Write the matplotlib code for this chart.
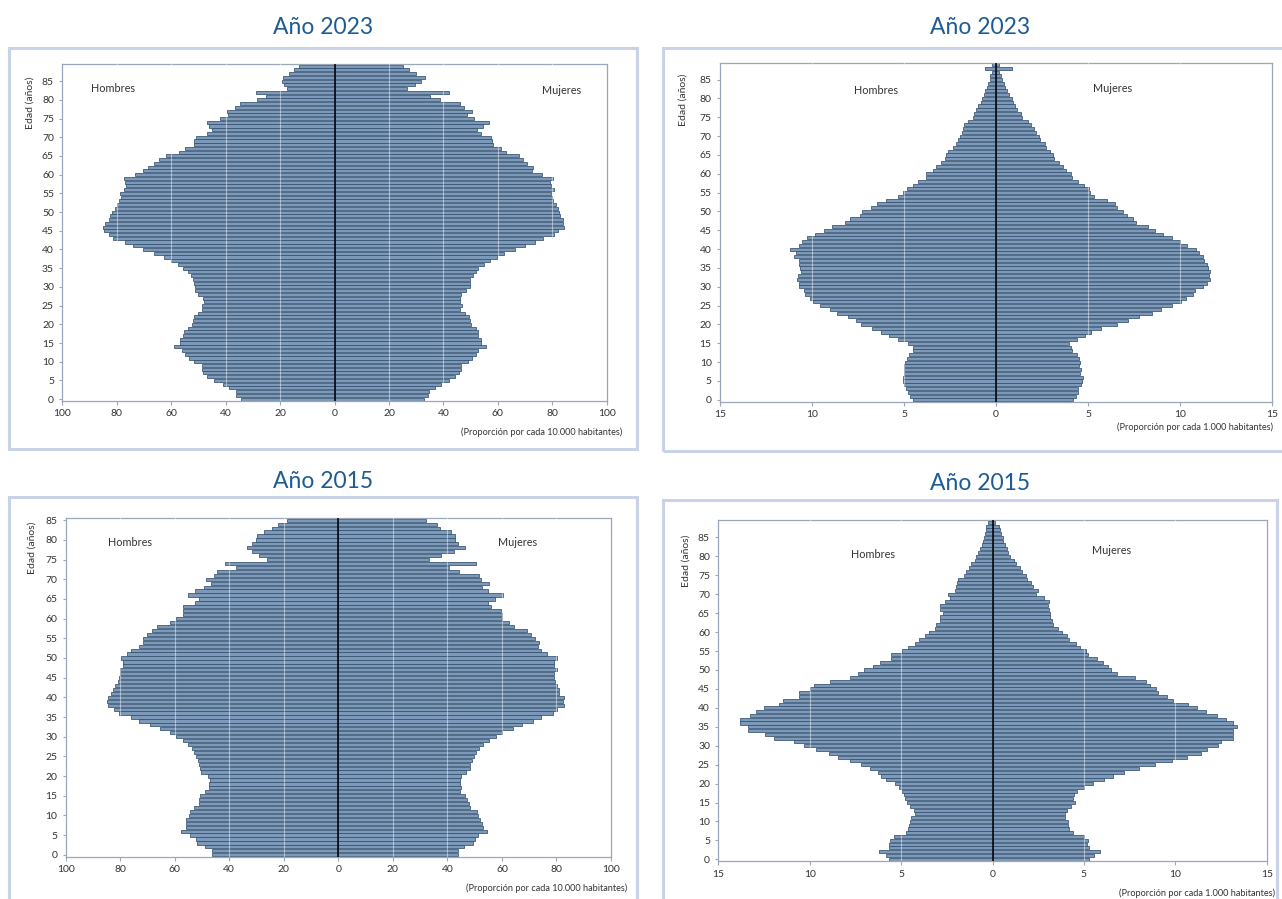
import matplotlib
matplotlib.use("Agg")
import matplotlib.pyplot as plt
from matplotlib.patches import Rectangle
from matplotlib.ticker import FixedLocator, FixedFormatter

plt.rcParams['font.family'] = ['Lato', 'DejaVu Sans']

# ---------------------------------------------------------------- data
# Single ages, youngest first
ages_2023 = list(range(90))
ages_2015_10k = list(range(86))
ages_2015_1k = list(range(90))

# Año 2023 - proporción por cada 10.000 habitantes
hombres_2023_10k = [
    34.2, 36.1, 36.3, 38.6, 40.8, 44.1, 46.7, 48.2, 48.8, 48.5,
    51.8, 53.4, 54.8, 56.0, 58.9, 56.9, 56.7, 55.5, 55.3, 54.0,
    52.4, 52.1, 51.8, 50.2, 48.6, 48.8, 47.9, 48.4, 50.0, 51.2,
    51.3, 51.6, 52.1, 52.8, 53.7, 55.7, 57.6, 60.0, 62.5, 66.3,
    70.2, 73.9, 76.9, 81.2, 82.8, 84.6, 84.9, 84.4, 82.8, 82.5,
    81.6, 80.6, 79.8, 79.2, 78.6, 78.8, 77.3, 76.6, 77.0, 77.2,
    73.3, 70.2, 68.5, 66.3, 64.3, 62.0, 57.3, 55.1, 51.8, 51.8,
    51.0, 46.9, 45.0, 46.0, 46.9, 41.9, 39.1, 39.6, 36.4, 34.7,
    28.5, 25.2, 29.0, 17.3, 18.6, 19.3, 19.0, 16.8, 14.7, 12.9,
]
mujeres_2023_10k = [
    32.7, 34.3, 34.7, 36.9, 39.1, 41.9, 44.2, 45.7, 46.4, 46.4,
    49.0, 50.6, 52.0, 52.8, 55.5, 54.0, 53.8, 52.9, 52.7, 52.1,
    50.1, 49.6, 49.4, 48.0, 46.2, 46.8, 46.2, 46.2, 46.4, 48.2,
    49.8, 49.6, 49.9, 50.9, 52.0, 52.7, 54.8, 57.1, 59.7, 62.1,
    66.2, 69.9, 73.5, 76.6, 80.5, 82.1, 84.4, 84.0, 83.8, 82.8,
    82.3, 82.0, 81.3, 80.1, 79.9, 79.5, 80.6, 79.5, 79.2, 80.3,
    76.2, 72.4, 72.9, 70.7, 69.1, 67.8, 63.0, 61.2, 58.2, 58.0,
    57.5, 53.9, 52.3, 54.5, 56.7, 51.2, 48.7, 50.6, 47.4, 46.0,
    38.6, 35.0, 42.0, 26.8, 29.7, 31.7, 33.1, 29.9, 27.2, 25.1,
]

# Año 2023 - proporción por cada 1.000 habitantes
hombres_2023_1k = [
    4.49, 4.67, 4.80, 4.89, 5.00, 5.07, 5.04, 5.00, 5.00, 4.98,
    4.93, 4.86, 4.75, 4.49, 4.53, 4.80, 5.34, 5.80, 6.25, 6.76,
    7.34, 7.61, 8.06, 8.64, 9.02, 9.57, 9.93, 10.11, 10.40, 10.43,
    10.69, 10.69, 10.82, 10.78, 10.58, 10.65, 10.69, 10.69, 10.98, 10.87,
    11.20, 10.72, 10.54, 10.29, 9.82, 9.37, 8.91, 8.19, 7.93, 7.39,
    7.30, 6.79, 6.49, 5.98, 5.33, 5.04, 4.86, 4.49, 4.26, 3.80,
    3.80, 3.44, 3.26, 2.99, 2.79, 2.72, 2.63, 2.36, 2.17, 2.08,
    1.99, 1.87, 1.81, 1.76, 1.54, 1.27, 1.20, 1.09, 0.98, 0.82,
    0.76, 0.67, 0.58, 0.51, 0.42, 0.36, 0.31, 0.25, 0.58, 0.22,
]
mujeres_2023_1k = [
    4.18, 4.33, 4.44, 4.44, 4.62, 4.66, 4.71, 4.55, 4.60, 4.51,
    4.55, 4.51, 4.40, 4.11, 4.08, 3.97, 4.37, 4.84, 5.16, 5.71,
    6.58, 7.17, 7.77, 8.48, 8.93, 9.57, 10.05, 10.33, 10.67, 10.80,
    11.21, 11.47, 11.63, 11.58, 11.59, 11.52, 11.45, 11.27, 11.25, 11.00,
    10.87, 10.38, 10.00, 9.57, 9.08, 8.64, 8.24, 7.61, 7.45, 7.12,
    6.88, 6.58, 6.43, 6.03, 5.31, 5.11, 5.05, 4.75, 4.47, 4.13,
    4.08, 3.80, 3.62, 3.42, 3.15, 3.10, 2.93, 2.72, 2.63, 2.39,
    2.32, 2.16, 2.05, 1.90, 1.72, 1.39, 1.36, 1.14, 1.03, 0.91,
    0.85, 0.71, 0.60, 0.49, 0.42, 0.34, 0.27, 0.18, 0.85, 0.18,
]

# Año 2015 - proporción por cada 10.000 habitantes
hombres_2015_10k = [
    46.2, 46.2, 48.9, 52.0, 52.3, 54.4, 57.7, 55.9, 56.0, 55.7,
    54.8, 54.3, 53.1, 51.1, 51.0, 50.6, 48.9, 47.3, 47.3, 47.2,
    47.7, 50.5, 50.7, 51.0, 51.3, 52.1, 52.8, 53.7, 55.0, 57.0,
    59.5, 61.7, 65.5, 69.1, 73.0, 75.9, 80.3, 82.4, 84.4, 84.7,
    84.4, 83.4, 82.8, 81.8, 80.7, 80.3, 80.0, 80.2, 78.9, 79.0,
    79.7, 77.5, 75.9, 73.1, 71.6, 71.8, 70.0, 68.2, 66.5, 61.7,
    59.7, 56.8, 57.0, 56.8, 52.6, 51.1, 55.0, 52.6, 49.4, 46.8,
    48.7, 45.7, 44.4, 37.5, 41.4, 26.0, 29.1, 31.8, 33.6, 31.8,
    30.1, 29.7, 27.1, 24.2, 22.0, 18.7,
]
mujeres_2015_10k = [
    43.8, 43.8, 46.2, 49.3, 50.0, 51.1, 54.4, 52.9, 52.8, 51.8,
    51.1, 50.7, 48.4, 48.0, 47.3, 46.3, 44.6, 45.0, 44.7, 44.5,
    44.9, 46.7, 48.4, 48.3, 48.9, 49.6, 50.5, 51.5, 52.9, 55.1,
    57.7, 59.9, 63.9, 67.2, 71.3, 74.2, 78.6, 80.1, 82.6, 82.4,
    82.6, 80.9, 81.1, 80.3, 79.3, 79.2, 79.1, 80.2, 79.0, 79.0,
    80.3, 76.5, 74.4, 73.1, 73.6, 72.0, 70.5, 69.1, 64.4, 62.5,
    59.9, 59.9, 59.5, 56.0, 54.8, 57.3, 60.3, 54.8, 52.6, 55.4,
    52.4, 51.5, 44.1, 40.6, 50.4, 33.4, 37.8, 42.3, 46.3, 43.8,
    42.7, 42.9, 41.2, 37.4, 36.1, 32.0,
]

# Año 2015 - proporción por cada 1.000 habitantes
hombres_2015_1k = [
    5.68, 5.81, 6.23, 5.65, 5.65, 5.63, 5.41, 4.74, 4.61, 4.55,
    4.50, 4.46, 4.26, 4.32, 4.50, 4.66, 4.79, 4.83, 4.95, 5.14,
    5.32, 5.83, 6.12, 6.28, 6.72, 7.19, 7.78, 8.47, 8.96, 9.65,
    10.33, 10.87, 11.97, 12.46, 13.39, 13.39, 13.79, 13.83, 13.28, 12.95,
    12.51, 11.69, 11.46, 10.60, 10.56, 10.00, 9.78, 8.91, 7.81, 7.38,
    7.05, 6.56, 6.14, 5.54, 5.54, 4.94, 4.64, 4.26, 4.04, 3.68,
    3.46, 3.17, 3.08, 2.86, 2.86, 2.71, 2.86, 2.86, 2.62, 2.31,
    2.46, 2.04, 1.99, 1.95, 1.86, 1.58, 1.44, 1.26, 1.18, 0.95,
    0.89, 0.77, 0.67, 0.60, 0.53, 0.46, 0.42, 0.38, 0.35, 0.27,
]
mujeres_2015_1k = [
    5.26, 5.54, 5.87, 5.26, 5.19, 5.21, 5.01, 4.43, 4.21, 4.12,
    4.15, 3.97, 3.97, 4.06, 4.28, 4.54, 4.39, 4.48, 4.63, 5.03,
    5.48, 6.08, 6.58, 7.18, 8.00, 8.87, 9.80, 10.62, 11.38, 11.71,
    12.31, 12.51, 13.13, 13.17, 13.17, 13.37, 13.13, 12.77, 12.26, 11.66,
    11.18, 10.67, 9.89, 9.53, 9.07, 8.93, 8.60, 8.38, 7.78, 6.79,
    6.50, 6.34, 6.03, 5.70, 5.21, 5.10, 4.77, 4.55, 4.17, 4.06,
    3.79, 3.57, 3.33, 3.24, 3.15, 3.15, 3.08, 3.02, 3.08, 2.79,
    2.37, 2.48, 2.24, 2.09, 1.91, 1.82, 1.64, 1.48, 1.28, 1.15,
    0.97, 0.87, 0.78, 0.67, 0.56, 0.55, 0.49, 0.42, 0.33, 0.15,
]

age_ticks = list(range(0, 90, 5))
ticks_10k = [-100, -80, -60, -40, -20, 0, 20, 40, 60, 80, 100]
ticks_1k = [-15, -10, -5, 0, 5, 10, 15]

# ---------------------------------------------------------------- style
W, H = 1282, 899
BAR = '#7d99b9'
EDGE = '#33506f'
TITLE = '#1d5b94'
FRAME = '#c9d2e6'
SPINE = '#9aa7b8'
TEXT = '#333333'

fig = plt.figure(figsize=(W / 100, H / 100), dpi=100)


def fx(x):
    return x / W


def fy(y):
    return 1 - y / H


def frame(x0, y0, x1, y1):
    fig.patches.append(Rectangle((fx(x0), fy(y1)), fx(x1 - x0), (y1 - y0) / H,
                                 transform=fig.transFigure, fill=False,
                                 edgecolor=FRAME, linewidth=2.2, zorder=0))


def pyramid(box, ages, men, women, xticks, title, title_xy, frame_box,
            ylabel_xy, hombres_xy, mujeres_xy, note, note_xy, note_ha):
    x0, y0, x1, y1 = box
    ax = fig.add_axes([fx(x0), fy(y1), fx(x1 - x0), (y1 - y0) / H])
    ax.barh(ages, [-v for v in men], height=0.82, color=BAR,
            edgecolor=EDGE, linewidth=0.55, zorder=2)
    ax.barh(ages, women, height=0.82, color=BAR,
            edgecolor=EDGE, linewidth=0.55, zorder=2)
    # light gridlines only show up where they cross the bars
    for t in xticks:
        if t not in (0, xticks[0], xticks[-1]):
            ax.axvline(t, color='white', linewidth=0.8, alpha=0.45, zorder=3)
    ax.axvline(0, color='black', linewidth=1.1, zorder=4)
    ax.set_xlim(xticks[0], xticks[-1])
    ax.set_ylim(-0.5, len(ages) - 0.5)
    ax.xaxis.set_major_locator(FixedLocator(xticks))
    ax.xaxis.set_major_formatter(FixedFormatter([str(abs(t)) for t in xticks]))
    ax.yaxis.set_major_locator(FixedLocator(age_ticks))
    ax.yaxis.set_major_formatter(FixedFormatter([str(a) for a in age_ticks]))
    ax.tick_params(axis='both', labelsize=7.5, colors=SPINE, labelcolor=TEXT,
                   length=3, width=0.8, pad=3)
    ax.tick_params(axis='y', length=2, pad=4)
    for s in ax.spines.values():
        s.set_color(SPINE)
        s.set_linewidth(0.9)
    frame(*frame_box)
    fig.text(fx(title_xy[0]), fy(title_xy[1]), title, fontsize=16.5,
             color=TITLE, ha='center', va='center')
    fig.text(fx(ylabel_xy[0]), fy(ylabel_xy[1]), 'Edad (años)', fontsize=7.5,
             color=TEXT, rotation=90, ha='center', va='center')
    fig.text(fx(hombres_xy[0]), fy(hombres_xy[1]), 'Hombres', fontsize=7.8,
             color=TEXT, ha='center', va='center')
    fig.text(fx(mujeres_xy[0]), fy(mujeres_xy[1]), 'Mujeres', fontsize=7.8,
             color=TEXT, ha='center', va='center')
    fig.text(fx(note_xy[0]), fy(note_xy[1]), note, fontsize=6.6,
             color=TEXT, ha=note_ha, va='center')
    return ax


note_10k = '(Proporción por cada 10.000 habitantes)'
note_1k = '(Proporción por cada 1.000 habitantes)'

pyramid((62.3, 64.3, 606.7, 401.0), ages_2023, hombres_2023_10k, mujeres_2023_10k,
        ticks_10k, 'Año 2023', (323, 27), (9, 48, 637, 449),
        (30, 103), (113, 88), (562, 91), note_10k, (622, 432), 'right')

pyramid((720.0, 62.7, 1272.3, 401.7), ages_2023, hombres_2023_1k, mujeres_2023_1k,
        ticks_1k, 'Año 2023', (980, 28), (663, 48, 1295, 451),
        (683, 100), (876, 91), (1113, 89), note_1k, (1117, 427), 'left')

pyramid((65.7, 518.3, 611.0, 856.7), ages_2015_10k, hombres_2015_10k, mujeres_2015_10k,
        ticks_10k, 'Año 2015', (323, 481), (9, 497, 637, 905),
        (32, 548), (130, 543), (518, 543), note_10k, (627, 888), 'right')

pyramid((718.3, 520.4, 1266.7, 861.2), ages_2015_1k, hombres_2015_1k, mujeres_2015_1k,
        ticks_1k, 'Año 2015', (980, 483), (663, 500, 1277, 905),
        (686, 561), (873, 554), (1112, 551), note_1k, (1275, 893), 'right')

fig.savefig('out.png', dpi=100)
